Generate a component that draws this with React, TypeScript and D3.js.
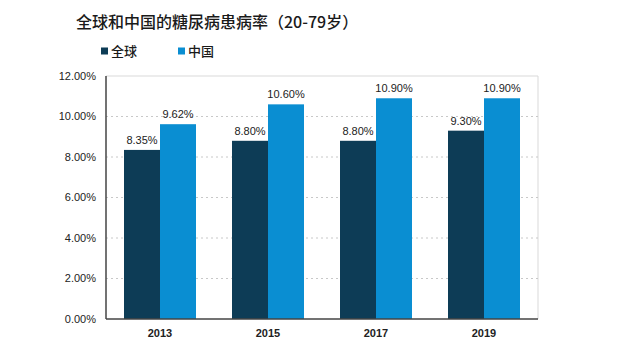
import React from "react";
import * as d3 from "d3";

const years = ["2013", "2015", "2017", "2019"];
const seriesNames = ["全球", "中国"];
const globalRates = [8.35, 8.8, 8.8, 9.3];
const chinaRates = [9.62, 10.6, 10.9, 10.9];
const yTicks = [0, 2, 4, 6, 8, 10, 12];

const COLORS = ["#0d3c56", "#0a8ed2"];
const FONT = "Arial, 'Liberation Sans', 'Noto Sans CJK SC', sans-serif";
const CJK = "'Noto Sans CJK SC', 'Microsoft YaHei', sans-serif";

const W = 640;
const H = 351;
const M = { top: 76, right: 102, bottom: 32, left: 106 };

export default function App() {
  const innerW = W - M.left - M.right;
  const innerH = H - M.top - M.bottom;

  const x0 = d3.scaleBand().domain(years).range([0, innerW]).paddingInner(1 / 3).paddingOuter(1 / 6);
  const x1 = d3.scaleBand().domain(seriesNames).range([0, x0.bandwidth()]);
  const y = d3.scaleLinear().domain([0, 12]).range([innerH, 0]);

  const series = [globalRates, chinaRates];

  return (
    <div style={{ position: "absolute", left: 0, top: 0, background: "#fff" }}>
      <svg width={W} height={H} style={{ display: "block" }}>
        <rect width={W} height={H} fill="#fff" />
        <text x={76} y={28} fontFamily={CJK} fontSize={16} fontWeight={500} fill="#1a1a1a">
          全球和中国的糖尿病患病率（20-79岁）
        </text>
        {/* legend */}
        {seriesNames.map((name, i) => {
          const lx = i === 0 ? 101 : 178;
          return (
            <g key={name} transform={`translate(${lx},51)`}>
              <rect x={0} y={-3.5} width={7} height={7} fill={COLORS[i]} />
              <text x={10} y={0} dy="0.35em" fontFamily={CJK} fontSize={13} fontWeight={500} fill="#1a1a1a">
                {name}
              </text>
            </g>
          );
        })}
        <g transform={`translate(${M.left},${M.top})`}>
          {/* frame */}
          <line x1={0} x2={innerW} y1={0} y2={0} stroke="#d9d9d9" />
          <line x1={innerW} x2={innerW} y1={0} y2={innerH} stroke="#d9d9d9" />
          {/* grid */}
          {yTicks.filter((t) => t > 0 && t < 12).map((t) => (
            <line key={t} x1={0} x2={innerW} y1={y(t)} y2={y(t)} stroke="#c8c8c8" strokeDasharray="2,3" />
          ))}
          {/* bars */}
          {years.map((yr, ci) => (
            <g key={yr} transform={`translate(${x0(yr)},0)`}>
              {seriesNames.map((s, si) => {
                const v = series[si][ci];
                const bx = x1(s)!;
                return (
                  <g key={s}>
                    <rect x={bx} y={y(v)} width={x1.bandwidth()} height={innerH - y(v)} fill={COLORS[si]} />
                    <text
                      x={bx + x1.bandwidth() / 2}
                      y={y(v) - 6}
                      textAnchor="middle"
                      fontFamily={FONT}
                      fontSize={11}
                      fill="#222"
                    >
                      {v.toFixed(2)}%
                    </text>
                  </g>
                );
              })}
            </g>
          ))}
          {/* axes */}
          <line x1={0} x2={0} y1={0} y2={innerH} stroke="#444" strokeWidth={1.5} />
          <line x1={0} x2={innerW} y1={innerH} y2={innerH} stroke="#444" strokeWidth={1.5} />
          {yTicks.map((t) => (
            <text key={t} x={-10} y={y(t)} dy="0.35em" textAnchor="end" fontFamily={FONT} fontSize={11} fill="#222">
              {t.toFixed(2)}%
            </text>
          ))}
          {years.map((yr) => (
            <text
              key={yr}
              x={x0(yr)! + x0.bandwidth() / 2}
              y={innerH + 14}
              dy="0.35em"
              textAnchor="middle"
              fontFamily={FONT}
              fontSize={11}
              fontWeight={700}
              fill="#222"
            >
              {yr}
            </text>
          ))}
        </g>
      </svg>
    </div>
  );
}
